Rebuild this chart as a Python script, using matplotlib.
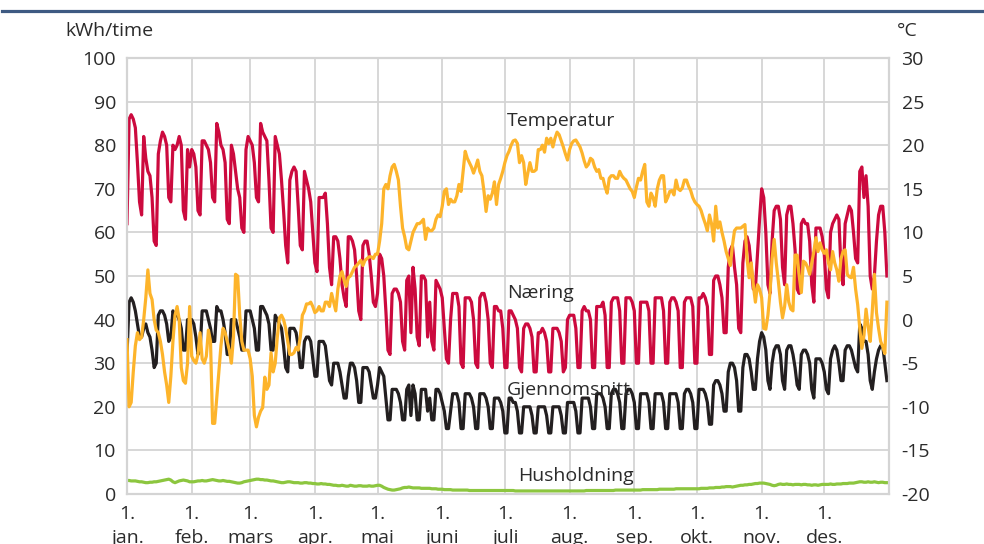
import numpy as np
import matplotlib.pyplot as plt
from matplotlib.lines import Line2D

plt.rcParams['font.family'] = ['Open Sans', 'DejaVu Sans']
plt.rcParams['axes.unicode_minus'] = False

# daily values, one row per week (Sun..Sat), Jan 1 is a Sunday
naering = [
    62, 86, 87, 86, 84, 76, 67,
    64, 82, 77, 74, 73, 68, 58,
    57, 78, 81, 83, 82, 80, 68,
    67, 80, 79, 80, 82, 80, 65,
    63, 79, 75, 79, 78, 75, 65,
    64, 81, 81, 80, 79, 76, 68,
    67, 85, 83, 80, 79, 76, 63,
    62, 80, 78, 74, 70, 68, 61,
    60, 79, 82, 81, 80, 76, 68,
    67, 85, 83, 82, 81, 72, 61,
    60, 82, 80, 78, 72, 65, 57,
    53, 72, 74, 75, 74, 66, 57,
    56, 74, 72, 70, 67, 60, 53,
    51, 68, 68, 68, 69, 62, 52,
    48, 59, 59, 58, 54, 48, 45,
    43, 59, 59, 58, 56, 50, 42,
    40, 57, 58, 58, 55, 50, 44,
    43, 46, 55, 54, 50, 42, 33,
    32, 46, 47, 47, 46, 44, 35,
    33, 49, 50, 37, 52, 47, 36,
    34, 50, 50, 49, 36, 44, 35,
    33, 49, 48, 47, 45, 38, 31,
    30, 40, 46, 46, 46, 43, 30,
    29, 45, 45, 45, 44, 40, 30,
    29, 45, 46, 46, 44, 40, 30,
    29, 43, 43, 42, 42, 38, 29,
    29, 42, 42, 41, 40, 38, 29,
    28, 38, 39, 39, 38, 36, 28,
    28, 37, 37, 38, 37, 35, 28,
    28, 38, 38, 38, 37, 35, 28,
    29, 40, 41, 41, 41, 38, 29,
    29, 42, 43, 42, 42, 40, 29,
    29, 43, 43, 43, 44, 41, 29,
    29, 44, 45, 45, 45, 42, 30,
    30, 45, 45, 45, 44, 42, 30,
    30, 44, 44, 44, 44, 42, 30,
    30, 45, 45, 45, 45, 42, 30,
    30, 44, 45, 45, 44, 42, 29,
    29, 44, 45, 45, 45, 43, 30,
    30, 45, 45, 46, 45, 43, 32,
    32, 49, 50, 50, 48, 45, 37,
    37, 52, 56, 57, 52, 48, 38,
    37, 53, 58, 59, 57, 52, 47,
    47, 55, 63, 70, 68, 60, 48,
    46, 58, 65, 66, 66, 63, 52,
    48, 64, 66, 66, 62, 56, 47,
    46, 62, 63, 62, 62, 58, 48,
    44, 61, 61, 61, 59, 55, 47,
    45, 60, 62, 63, 64, 63, 52,
    48, 62, 64, 66, 65, 60, 54,
    53, 74, 75, 68, 73, 66, 50,
    47, 50, 58, 64, 66, 66, 60,
    50,
]

gjennomsnitt = [
    32, 44, 45, 44, 42, 39, 36,
    36, 38, 39, 37, 36, 33, 29,
    30, 41, 42, 42, 41, 39, 35,
    36, 42, 41, 41, 40, 38, 33,
    33, 40, 40, 40, 39, 36, 32,
    33, 42, 42, 42, 40, 38, 35,
    35, 43, 42, 42, 40, 37, 32,
    32, 40, 40, 40, 38, 36, 33,
    33, 42, 42, 42, 40, 38, 33,
    33, 43, 43, 42, 41, 39, 33,
    33, 41, 40, 39, 38, 34, 29,
    28, 38, 38, 38, 37, 34, 29,
    29, 35, 36, 36, 35, 31, 27,
    27, 35, 35, 35, 34, 30, 26,
    25, 30, 30, 30, 28, 25, 22,
    22, 27, 30, 30, 29, 26, 21,
    21, 29, 29, 29, 28, 25, 22,
    22, 25, 29, 28, 27, 22, 17,
    17, 24, 24, 24, 23, 21, 17,
    17, 24, 25, 18, 25, 23, 17,
    17, 24, 24, 24, 19, 22, 17,
    17, 24, 24, 23, 21, 19, 15,
    15, 19, 23, 23, 23, 21, 15,
    15, 23, 23, 23, 22, 20, 15,
    15, 23, 23, 23, 22, 20, 15,
    15, 22, 22, 22, 21, 19, 14,
    14, 22, 22, 21, 21, 19, 14,
    14, 20, 20, 20, 20, 18, 14,
    14, 20, 20, 20, 20, 18, 14,
    14, 20, 20, 20, 20, 18, 14,
    14, 21, 21, 21, 21, 19, 14,
    14, 22, 22, 22, 22, 20, 15,
    15, 23, 23, 23, 22, 20, 15,
    15, 23, 24, 24, 23, 21, 15,
    15, 23, 24, 24, 23, 21, 15,
    15, 23, 23, 23, 23, 21, 15,
    15, 23, 23, 23, 23, 21, 15,
    15, 23, 23, 23, 23, 21, 15,
    15, 23, 24, 24, 23, 21, 15,
    15, 24, 24, 24, 23, 21, 16,
    16, 25, 26, 26, 25, 23, 19,
    19, 28, 30, 30, 29, 26, 19,
    19, 29, 32, 32, 31, 28, 24,
    24, 31, 35, 37, 36, 33, 26,
    24, 30, 33, 34, 34, 32, 26,
    24, 33, 34, 34, 32, 29, 25,
    24, 32, 33, 33, 32, 30, 24,
    22, 31, 31, 31, 30, 28, 24,
    23, 31, 33, 34, 33, 30, 26,
    26, 33, 34, 34, 33, 31, 29,
    28, 39, 38, 35, 35, 32, 26,
    24, 28, 31, 33, 34, 34, 30,
    26,
]

husholdning = [
    3.1, 3.1, 3.0, 3.0, 3.0, 2.9, 2.8,
    2.8, 2.7, 2.6, 2.6, 2.7, 2.7, 2.8,
    2.8, 2.9, 3.0, 3.1, 3.2, 3.3, 3.4,
    3.2, 2.8, 2.6, 2.8, 3.0, 3.1, 3.2,
    3.1, 3.0, 2.8, 2.8, 2.8, 2.9, 3.0,
    3.0, 3.1, 3.0, 3.0, 3.1, 3.2, 3.3,
    3.2, 3.1, 3.0, 3.0, 3.1, 3.0, 2.9,
    2.9, 2.8, 2.7, 2.6, 2.5, 2.5, 2.6,
    2.8, 2.9, 3.0, 3.1, 3.2, 3.3, 3.4,
    3.4, 3.3, 3.3, 3.2, 3.2, 3.1, 3.0,
    3.0, 2.9, 2.8, 2.7, 2.6, 2.6, 2.7,
    2.8, 2.8, 2.7, 2.6, 2.6, 2.6, 2.5,
    2.5, 2.6, 2.6, 2.5, 2.5, 2.4, 2.4,
    2.3, 2.3, 2.4, 2.3, 2.3, 2.2, 2.2,
    2.1, 2.0, 2.0, 1.9, 1.9, 2.0, 1.9,
    1.8, 1.8, 2.0, 1.9, 1.8, 1.8, 1.9,
    1.9, 1.8, 1.8, 1.8, 1.9, 1.8, 1.8,
    1.9, 2.0, 2.0, 1.8, 1.5, 1.3, 1.1,
    1.0, 0.9, 0.9, 1.0, 1.1, 1.2, 1.4,
    1.5, 1.5, 1.6, 1.5, 1.4, 1.4, 1.4,
    1.4, 1.3, 1.3, 1.3, 1.3, 1.3, 1.2,
    1.2, 1.2, 1.1, 1.1, 1.1, 1.0, 1.0,
    1.0, 1.0, 0.9, 0.9, 0.9, 0.9, 0.9,
    0.9, 0.9, 0.9, 0.8, 0.8, 0.8, 0.8,
    0.8, 0.8, 0.8, 0.8, 0.8, 0.8, 0.8,
    0.8, 0.8, 0.8, 0.8, 0.8, 0.8, 0.8,
    0.8, 0.8, 0.8, 0.8, 0.7, 0.7, 0.7,
    0.7, 0.7, 0.7, 0.7, 0.7, 0.7, 0.7,
    0.7, 0.7, 0.7, 0.7, 0.7, 0.7, 0.7,
    0.7, 0.7, 0.7, 0.7, 0.7, 0.7, 0.7,
    0.7, 0.7, 0.7, 0.7, 0.7, 0.7, 0.7,
    0.7, 0.7, 0.7, 0.8, 0.8, 0.8, 0.8,
    0.8, 0.8, 0.8, 0.8, 0.8, 0.8, 0.8,
    0.8, 0.8, 0.8, 0.9, 0.9, 0.9, 0.9,
    0.9, 0.9, 0.9, 0.9, 0.9, 0.9, 0.9,
    0.9, 0.9, 1.0, 1.0, 1.0, 1.0, 1.0,
    1.0, 1.0, 1.0, 1.1, 1.1, 1.1, 1.1,
    1.1, 1.1, 1.1, 1.1, 1.2, 1.2, 1.2,
    1.2, 1.2, 1.2, 1.2, 1.2, 1.2, 1.2,
    1.2, 1.2, 1.3, 1.3, 1.3, 1.3, 1.4,
    1.4, 1.4, 1.5, 1.5, 1.5, 1.6, 1.6,
    1.7, 1.7, 1.7, 1.6, 1.7, 1.8, 1.9,
    2.0, 2.0, 2.1, 2.1, 2.2, 2.2, 2.3,
    2.4, 2.4, 2.5, 2.5, 2.5, 2.4, 2.3,
    2.2, 2.0, 1.9, 2.0, 2.2, 2.3, 2.2,
    2.2, 2.3, 2.2, 2.2, 2.1, 2.2, 2.2,
    2.2, 2.1, 2.2, 2.2, 2.1, 2.1, 2.0,
    2.1, 2.1, 2.0, 2.1, 2.2, 2.2, 2.2,
    2.2, 2.3, 2.2, 2.2, 2.3, 2.3, 2.3,
    2.4, 2.4, 2.4, 2.5, 2.5, 2.5, 2.6,
    2.7, 2.8, 2.8, 2.7, 2.7, 2.8, 2.7,
    2.7, 2.8, 2.7, 2.6, 2.7, 2.7, 2.6,
    2.6,
]

# daily mean temperature, deg C
temperatur = [
    -2.3, -10.0, -9.5, -6.0, -3.0, -1.5, -2.3,
    -2.0, 0.0, 2.5, 5.7, 3.0, 2.3, 0.0,
    -1.2, -1.5, -2.5, -4.0, -6.0, -7.5, -9.5,
    -6.5, -2.5, 0.5, 1.5, 0.0, -5.5, -7.0,
    -7.3, -5.0, 1.5, -4.2, -4.7, -5.0, -4.0,
    -1.5, -4.5, -5.0, -4.2, -1.2, -2.5, -11.9,
    -11.9, -9.0, -6.0, -3.0, -1.0, -1.5, -2.5,
    -3.5, -5.0, -2.0, 5.2, 5.0, 0.5, -2.5,
    -3.5, -3.5, -3.5, -4.5, -6.5, -11.0, -12.3,
    -11.2, -10.5, -10.1, -6.6, -8.0, -7.5, -3.8,
    -6.0, -5.0, -2.0, 0.2, 0.5, 0.0, -1.0,
    -2.5, -4.0, -4.0, -3.8, -3.2, -3.5, -2.0,
    0.5, 1.0, 1.8, 1.8, 2.0, 1.5, 0.8,
    1.0, 1.5, 1.0, 1.0, 2.0, 2.0, 1.5,
    3.0, 2.0, 1.0, 3.5, 5.0, 5.5, 4.5,
    3.8, 4.8, 5.0, 5.5, 6.0, 6.2, 6.5,
    6.8, 6.2, 6.8, 7.0, 7.2, 7.2, 7.0,
    7.5, 7.5, 9.0, 11.0, 15.0, 15.5, 15.0,
    16.5, 17.5, 17.8, 17.0, 16.0, 13.0, 10.5,
    9.5, 8.2, 8.0, 9.0, 10.0, 10.5, 11.0,
    11.0, 11.2, 11.5, 9.2, 10.5, 10.2, 10.2,
    10.5, 11.5, 12.0, 11.8, 13.0, 14.7, 15.0,
    13.2, 13.8, 13.5, 13.5, 14.2, 15.5, 14.7,
    17.0, 19.3, 18.5, 18.0, 17.5, 16.8, 17.5,
    18.3, 17.0, 16.5, 14.7, 12.4, 14.2, 13.8,
    14.5, 15.8, 13.2, 15.5, 16.2, 17.0, 18.0,
    18.8, 19.3, 20.0, 20.5, 20.6, 20.2, 18.0,
    18.8, 18.0, 15.5, 16.8, 18.0, 17.0, 17.0,
    17.2, 19.5, 19.5, 20.0, 19.2, 20.8, 20.2,
    20.8, 19.8, 20.8, 21.5, 21.2, 20.5, 19.8,
    19.0, 18.3, 19.5, 20.2, 20.5, 20.6, 20.2,
    19.8, 19.1, 18.2, 17.5, 17.8, 18.5, 18.3,
    17.5, 17.0, 17.2, 16.2, 16.2, 15.2, 14.5,
    16.2, 16.5, 16.5, 16.2, 16.2, 17.0, 16.5,
    16.2, 16.0, 15.5, 15.0, 14.7, 14.0, 15.2,
    16.2, 16.0, 17.0, 17.8, 13.5, 13.0, 14.5,
    14.0, 13.0, 15.0, 16.0, 16.5, 16.5, 13.5,
    14.0, 14.7, 14.8, 14.3, 16.0, 15.0, 14.8,
    15.1, 16.0, 16.0, 15.3, 14.8, 14.0, 13.5,
    13.2, 13.0, 12.5, 11.7, 11.0, 10.2, 12.0,
    11.0, 9.0, 13.0, 10.5, 11.2, 10.0, 9.0,
    7.8, 7.0, 6.2, 8.5, 10.2, 10.5, 10.5,
    10.5, 10.7, 10.9, 7.0, 4.8, 6.5, 4.0,
    2.0, 4.0, 3.5, 2.5, -1.0, -1.1, 0.5,
    3.1, 7.0, 9.2, 6.5, 4.4, 2.0, 0.2,
    1.5, 4.0, 2.0, 1.2, 1.0, 7.4, 7.4,
    5.0, 3.1, 6.7, 6.5, 6.0, 5.2, 6.5,
    7.8, 9.4, 7.8, 8.8, 8.0, 7.6, 8.0,
    6.5, 5.7, 7.8, 6.5, 5.7, 4.4, 7.0,
    7.8, 8.0, 5.2, 4.9, 4.8, 6.0, 3.5,
    1.7, -1.0, -3.3, -1.8, 1.2, -0.8, -2.5,
    1.0, 5.2, 0.8, -1.0, -2.5, -3.1, -3.9,
    2.0,
]

month_starts = [0, 31, 59, 90, 120, 151, 181, 212, 243, 273, 304, 334]
month_names = ["jan.", "feb.", "mars", "apr.", "mai", "juni",
               "juli", "aug.", "sep.", "okt.", "nov.", "des."]

days = np.arange(len(naering))
text_color = "#2b2b2b"
grid_color = "#d4d4d4"

fig = plt.figure(figsize=(9.84, 5.44), dpi=100)
ax = fig.add_axes([127 / 984, 50 / 544, 762 / 984, 436 / 544])

ax.set_xlim(0, 365)
ax.set_ylim(0, 100)
ax.set_yticks(range(0, 101, 10))
ax.set_xticks(month_starts)
ax.set_xticklabels([f"1.\n{m}" for m in month_names], linespacing=1.45)
ax.grid(True, color=grid_color, linewidth=1.3)
ax.set_axisbelow(True)
for spine in ax.spines.values():
    spine.set_color(grid_color)
    spine.set_linewidth(1.6)
ax.tick_params(axis="y", length=0, labelsize=14, colors=text_color, pad=8)
ax.tick_params(axis="x", length=0, labelsize=14, colors=text_color, pad=8)

ax.plot(days, gjennomsnitt, color="#231f20", linewidth=2.3)
ax.plot(days, naering, color="#cc0a3e", linewidth=2.3)
ax.plot(days, husholdning, color="#8cc63f", linewidth=2.3)

ax2 = ax.twinx()
ax2.set_ylim(-20, 30)
ax2.set_yticks(range(-20, 31, 5))
for spine in ax2.spines.values():
    spine.set_visible(False)
ax2.tick_params(axis="y", length=0, labelsize=14, colors=text_color, pad=9)
ax2.plot(days, temperatur, color="#fdb42b", linewidth=2.3)

ax.text(182, 84.5, "Temperatur", fontsize=14, color=text_color, va="baseline")
ax.text(182, 45.0, "Næring", fontsize=14, color=text_color, va="baseline")
ax.text(182, 22.7, "Gjennomsnitt", fontsize=14, color=text_color, va="baseline")
ax.text(187.5, 2.9, "Husholdning", fontsize=14, color=text_color, va="baseline")

fig.text(65 / 984, 1 - 36 / 544, "kWh/time", fontsize=14, color=text_color, va="baseline")
fig.text(897 / 984, 1 - 36 / 544, "°C", fontsize=14, color=text_color, va="baseline")

fig.add_artist(Line2D([0.002, 1.0], [1 - 10.5 / 544] * 2, transform=fig.transFigure,
                      color="#3e5a82", linewidth=2.3))

fig.savefig("out.png", dpi=100)
